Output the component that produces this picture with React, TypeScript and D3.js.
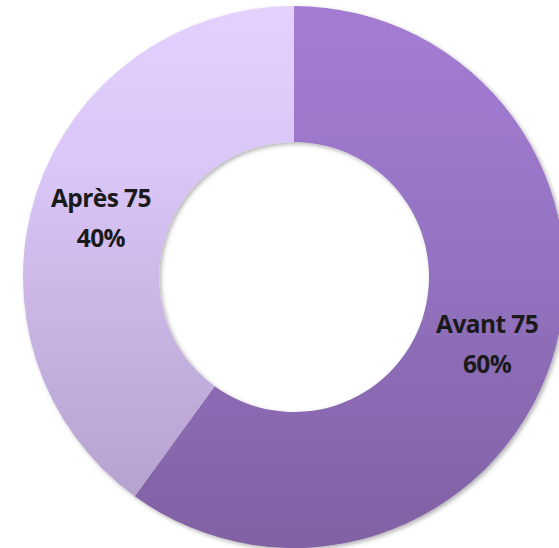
import React from "react";
import * as d3 from "d3";

const categories = ["Avant 75", "Après 75"];
const values = [60, 40];
const percentLabels = ["60%", "40%"];

const W = 559;
const H = 548;
const cx = 294;
const cy = 277;
const outerR = 271;
const innerR = 135;

const gradients = [
  {
    id: "gAvant",
    stops: [
      [0, "#a47cd3"],
      [0.17, "#9f79cd"],
      [0.45, "#9473c2"],
      [0.91, "#8464a8"],
      [1, "#8062a3"],
    ],
  },
  {
    id: "gApres",
    stops: [
      [0, "#e4d1fe"],
      [0.3, "#dac6f7"],
      [0.54, "#cbb6e6"],
      [0.84, "#b9a6d2"],
      [1, "#b09dca"],
    ],
  },
];

export default function App() {
  const pie = d3.pie<number>().sort(null).value((d) => d)(values);
  const arc = d3.arc<d3.PieArcDatum<number>>().innerRadius(innerR).outerRadius(outerR);
  const labelArc = d3
    .arc<d3.PieArcDatum<number>>()
    .innerRadius((innerR + outerR) / 2)
    .outerRadius((innerR + outerR) / 2);

  return (
    <svg
      width={W}
      height={H}
      style={{ position: "absolute", left: 0, top: 0, background: "#fff" }}
    >
      <defs>
        {gradients.map((g) => (
          <linearGradient
            key={g.id}
            id={g.id}
            gradientUnits="userSpaceOnUse"
            x1={0}
            y1={-outerR}
            x2={0}
            y2={outerR}
          >
            {g.stops.map(([o, c], j) => (
              <stop key={j} offset={o as number} stopColor={c as string} />
            ))}
          </linearGradient>
        ))}
        <filter id="shadow" x="-10%" y="-10%" width="120%" height="120%">
          <feDropShadow dx="2" dy="2" stdDeviation="2" floodColor="#000" floodOpacity="0.3" />
        </filter>
      </defs>
      <g transform={`translate(${cx},${cy})`}>
        <g filter="url(#shadow)">
          {pie.map((p, i) => (
            <path key={i} d={arc(p) || ""} fill={`url(#${gradients[i].id})`} />
          ))}
        </g>
        {pie.map((p, i) => {
          const [lx, ly] = labelArc.centroid(p);
          return (
            <text
              key={i}
              x={lx}
              y={ly}
              textAnchor="middle"
              fontFamily="'Open Sans', sans-serif"
              fontWeight="bold"
              fontSize={24.5}
              letterSpacing={-0.6}
              fill="#1a1a1a"
            >
              <tspan x={lx} dy={-7}>
                {categories[i]}
              </tspan>
              <tspan x={lx} dy={40}>
                {percentLabels[i]}
              </tspan>
            </text>
          );
        })}
      </g>
    </svg>
  );
}
